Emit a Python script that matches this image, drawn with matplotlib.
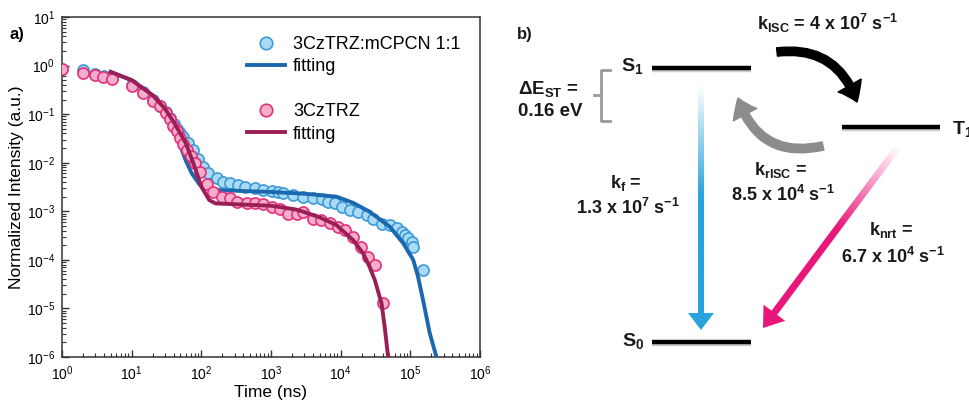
import numpy as np
import matplotlib
matplotlib.use("Agg")
import matplotlib.pyplot as plt
from matplotlib.patches import Polygon, FancyArrowPatch
from matplotlib.lines import Line2D

plt.rcParams['font.family'] = ['Liberation Sans', 'DejaVu Sans']
plt.rcParams['mathtext.default'] = 'regular'

# --- transient PL decay data ---
blue_t = [1, 2, 3, 4, 5.2, 10, 14.7, 20.4, 25.5, 30.7, 35.4, 40, 45, 50, 55, 65, 77, 90,
          107, 126, 166, 206, 257, 338, 425, 588, 776, 1020, 1260, 1500, 2080, 2900, 4000,
          5320, 6620, 8260, 10300, 13600, 17800, 23600, 29300, 38600, 50800, 63400, 74800,
          83400, 93000, 104000, 110000, 150000]
blue_I = [0.85, 0.8, 0.66, 0.6, 0.55, 0.4, 0.28, 0.2, 0.15, 0.11, 0.082, 0.062, 0.049, 0.04,
          0.034, 0.025, 0.018, 0.0122, 0.0082, 0.006, 0.00475, 0.00405, 0.00375, 0.00346,
          0.0032, 0.003, 0.0028, 0.0026, 0.0025, 0.0024, 0.0022, 0.00199, 0.00184, 0.00176,
          0.00157, 0.00145, 0.00124, 0.00106, 0.00098, 0.00083, 0.00071, 0.00056, 0.00052,
          0.000445, 0.00038, 0.00032, 0.000277, 0.000236, 0.000186, 0.000062]

pink_t = [1, 2, 3, 3.9, 5.2, 10, 14.7, 20.4, 25.5, 30.7, 35.4, 39.5, 44.2, 49.3, 55, 61.5,
          70, 81, 95.5, 119, 148, 195, 257, 321, 447, 588, 776, 1020, 1340, 1780, 2330, 2900,
          4040, 5300, 7000, 9220, 11500, 15100, 19900, 24800, 30900, 40800]
pink_I = [0.85, 0.71, 0.63, 0.59, 0.54, 0.38, 0.27, 0.19, 0.145, 0.107, 0.078, 0.056, 0.044,
          0.032, 0.024, 0.018, 0.0138, 0.010, 0.0065, 0.0037, 0.0025, 0.002, 0.00184, 0.00157,
          0.00151, 0.0015, 0.00141, 0.00124, 0.0011, 0.0009, 0.0009, 0.00098, 0.00071, 0.00066,
          0.00058, 0.00048, 0.00041, 0.0003, 0.000186, 0.000116, 0.000078, 0.0000127]

blue_fit_t = [5, 10, 20, 30, 40, 50, 60, 73, 95, 133, 200, 300, 1000, 3000, 8700, 15000,
              26000, 50800, 79000, 110000, 129000, 152000, 190000, 237000]
blue_fit_I = [0.74, 0.5, 0.245, 0.125, 0.055, 0.022, 0.011, 0.006, 0.0035, 0.0028, 0.0027,
              0.00265, 0.0025, 0.0023, 0.002, 0.0015, 0.00098, 0.00048, 0.00022, 0.0001,
              0.000045, 0.000015, 0.0000031, 0.000001]

pink_fit_t = [5, 10, 20, 30, 40, 50, 60, 70, 80, 100, 130, 160, 300, 1000, 2200, 2900, 5000,
              8700, 15100, 21000, 26000, 31000, 38600, 43000, 48000]
pink_fit_I = [0.74, 0.5, 0.245, 0.13, 0.069, 0.04, 0.025, 0.014, 0.0083, 0.0032, 0.0017,
              0.00145, 0.0014, 0.0013, 0.0011, 0.00098, 0.00075, 0.00052, 0.000255, 0.000136,
              0.000072, 0.000038, 0.0000127, 0.000004, 0.000001]

# --- energy diagram labels ---
rate_isc = r'k$_{ISC}$ = 4 x 10$^{7}$ s$^{-1}$'
rate_f = [r'k$_{f}$ =', r'1.3 x 10$^{7}$ s$^{-1}$']
rate_risc = [r'k$_{rISC}$ =', r'8.5 x 10$^{4}$ s$^{-1}$']
rate_nrt = [r'k$_{nrt}$ =', r'6.7 x 10$^{4}$ s$^{-1}$']
gap_label = [r'ΔE$_{ST}$ =', '0.16 eV']

fig = plt.figure(figsize=(9.69, 4.01), dpi=100)
W, H = 969, 401

# ---------------- panel a ----------------
ax = fig.add_axes([62 / W, 1 - 357 / H, (480 - 62) / W, (357 - 17) / H])
ax.set_xscale('log')
ax.set_yscale('log')

ax.plot(blue_t, blue_I, 'o', ms=8, mfc='#a9dbf5', mec='#3d9ad8', mew=1.2, zorder=2)
ax.plot(blue_fit_t, blue_fit_I, '-', color='#1c68ae', lw=2.8, zorder=3)
ax.plot(pink_t, pink_I, 'o', ms=8, mfc='#f3aecb', mec='#e6307b', mew=1.2, zorder=4)
ax.plot(pink_fit_t, pink_fit_I, '-', color='#9a1f55', lw=2.8, zorder=5)

ax.set_xlim(1, 1e6)
ax.set_ylim(1e-6, 10)
ax.set_xlabel('Time (ns)', fontsize=12.5)
ax.set_ylabel('Normalized Intensity (a.u.)', fontsize=12.5)
ax.yaxis.set_label_coords(-0.09, 0.5)
ax.xaxis.set_label_coords(0.5, -0.083)
ax.tick_params(which='both', direction='in', top=False, right=False, labelsize=10,
               color='#333333')
ax.tick_params(which='major', length=5, width=1)
ax.tick_params(which='minor', length=3, width=0.8)
ax.tick_params(axis='y', pad=5)
ax.tick_params(axis='x', pad=5)
for sp in ax.spines.values():
    sp.set_linewidth(1.1)
    sp.set_color('#333333')

h_blue = Line2D([], [], ls='none', marker='o', ms=9, mfc='#a9dbf5', mec='#3d9ad8', mew=1.2)
h_bfit = Line2D([], [], color='#1c68ae', lw=2.8)
h_gap = Line2D([], [], ls='none')
h_pink = Line2D([], [], ls='none', marker='o', ms=9, mfc='#f3aecb', mec='#e6307b', mew=1.2)
h_pfit = Line2D([], [], color='#9a1f55', lw=2.8)
ax.legend([h_blue, h_bfit, h_gap, h_pink, h_pfit],
          ['3CzTRZ:mCPCN 1:1', 'fitting', ' ', '3CzTRZ', 'fitting'],
          loc='upper left', bbox_to_anchor=(247 / W, 1 - 36 / H), bbox_transform=fig.transFigure,
          frameon=False, fontsize=13, handlelength=2.1, handletextpad=0.45,
          labelspacing=0.3, borderpad=0, borderaxespad=0)

fig.text(17 / W, 1 - 34 / H, 'a)', fontsize=12, fontweight='bold', ha='center', va='center')

# ---------------- panel b ----------------
bx = fig.add_axes([490 / W, 0, (W - 490) / W, 1])
bx.set_xlim(490, W)
bx.set_ylim(H, 0)
bx.axis('off')


def grad_arrow(start, end, shaft_w, head_w, head_l, color, fade):
    start = np.array(start, float)
    end = np.array(end, float)
    d = end - start
    L = np.hypot(*d)
    d = d / L
    n = np.array([-d[1], d[0]])
    base = end - d * head_l
    pts = [start + n * shaft_w / 2, base + n * shaft_w / 2, base + n * head_w / 2, end,
           base - n * head_w / 2, base - n * shaft_w / 2, start - n * shaft_w / 2]
    pts = np.array(pts)
    poly = Polygon(pts, closed=True, facecolor='none', edgecolor='none')
    bx.add_patch(poly)
    x0, y0 = pts.min(axis=0) - 2
    x1, y1 = pts.max(axis=0) + 2
    xs = np.linspace(x0, x1, 300)
    ys = np.linspace(y0, y1, 300)
    X, Y = np.meshgrid(xs, ys)
    s = ((X - start[0]) * d[0] + (Y - start[1]) * d[1]) / L
    f = np.clip(s / fade, 0, 1)[..., None]
    c = np.array(matplotlib.colors.to_rgb(color))
    img = (1 - f) * np.ones(3) + f * c
    im = bx.imshow(img, extent=(x0, x1, y0, y1), origin='lower', aspect='auto',
                   interpolation='bilinear', zorder=2)
    im.set_clip_path(poly)


# energy levels
levels = [(652, 751, 68), (652, 751, 342), (842, 940, 127)]
for xa, xb, y in levels:
    bx.plot([xa, xb], [y + 2, y + 2], color='#999999', lw=3.2, alpha=0.5,
            solid_capstyle='butt', zorder=3)
    bx.plot([xa, xb], [y, y], color='black', lw=3.2, solid_capstyle='butt', zorder=4)

bold = dict(fontweight='bold', color='#1a1a1a')
bx.text(632, 66, 'S$_1$', fontsize=14, ha='center', va='center', **bold)
bx.text(633, 341, 'S$_0$', fontsize=14, ha='center', va='center', **bold)
bx.text(952, 129, 'T$_1$', fontsize=14, ha='left', va='center', **bold)
bx.text(525, 35, 'b)', fontsize=12, ha='center', va='center', **bold)

# gap bracket
bx.plot([610, 601, 601, 610], [70, 70, 121, 121], color='#9a9a9a', lw=2, zorder=3)
bx.plot([594, 601], [95, 95], color='#9a9a9a', lw=2, zorder=3)
bx.text(548, 89, gap_label[0], fontsize=13.5, ha='center', va='center', **bold)
bx.text(550, 111, gap_label[1], fontsize=13.5, ha='center', va='center', **bold)

# radiative / non-radiative arrows
grad_arrow((701, 85), (701, 330), 6, 26, 17, '#2aa3dc', 0.45)
grad_arrow((898, 147), (763, 328), 7, 27, 19, '#e8177a', 0.45)

# ISC / rISC curved arrows
bx.add_patch(FancyArrowPatch((777, 52), (857, 102), connectionstyle='arc3,rad=-0.4',
                             arrowstyle='simple,head_length=13,head_width=19,tail_width=6',
                             color='black', shrinkA=0, shrinkB=0, zorder=4))
bx.add_patch(FancyArrowPatch((823, 146), (738, 98), connectionstyle='arc3,rad=-0.45',
                             arrowstyle='simple,head_length=13,head_width=19,tail_width=6',
                             color='#8c8c8c', shrinkA=0, shrinkB=0, zorder=4))

bx.text(828, 23, rate_isc, fontsize=13, ha='center', va='center', **bold)
bx.text(626, 183, rate_f[0], fontsize=13, ha='center', va='center', **bold)
bx.text(628, 208, rate_f[1], fontsize=13, ha='center', va='center', **bold)
bx.text(781, 170, rate_risc[0], fontsize=13, ha='center', va='center', **bold)
bx.text(783, 195, rate_risc[1], fontsize=13, ha='center', va='center', **bold)
bx.text(891, 230, rate_nrt[0], fontsize=13, ha='center', va='center', **bold)
bx.text(893, 257, rate_nrt[1], fontsize=13, ha='center', va='center', **bold)

fig.savefig('out.png', dpi=100)
